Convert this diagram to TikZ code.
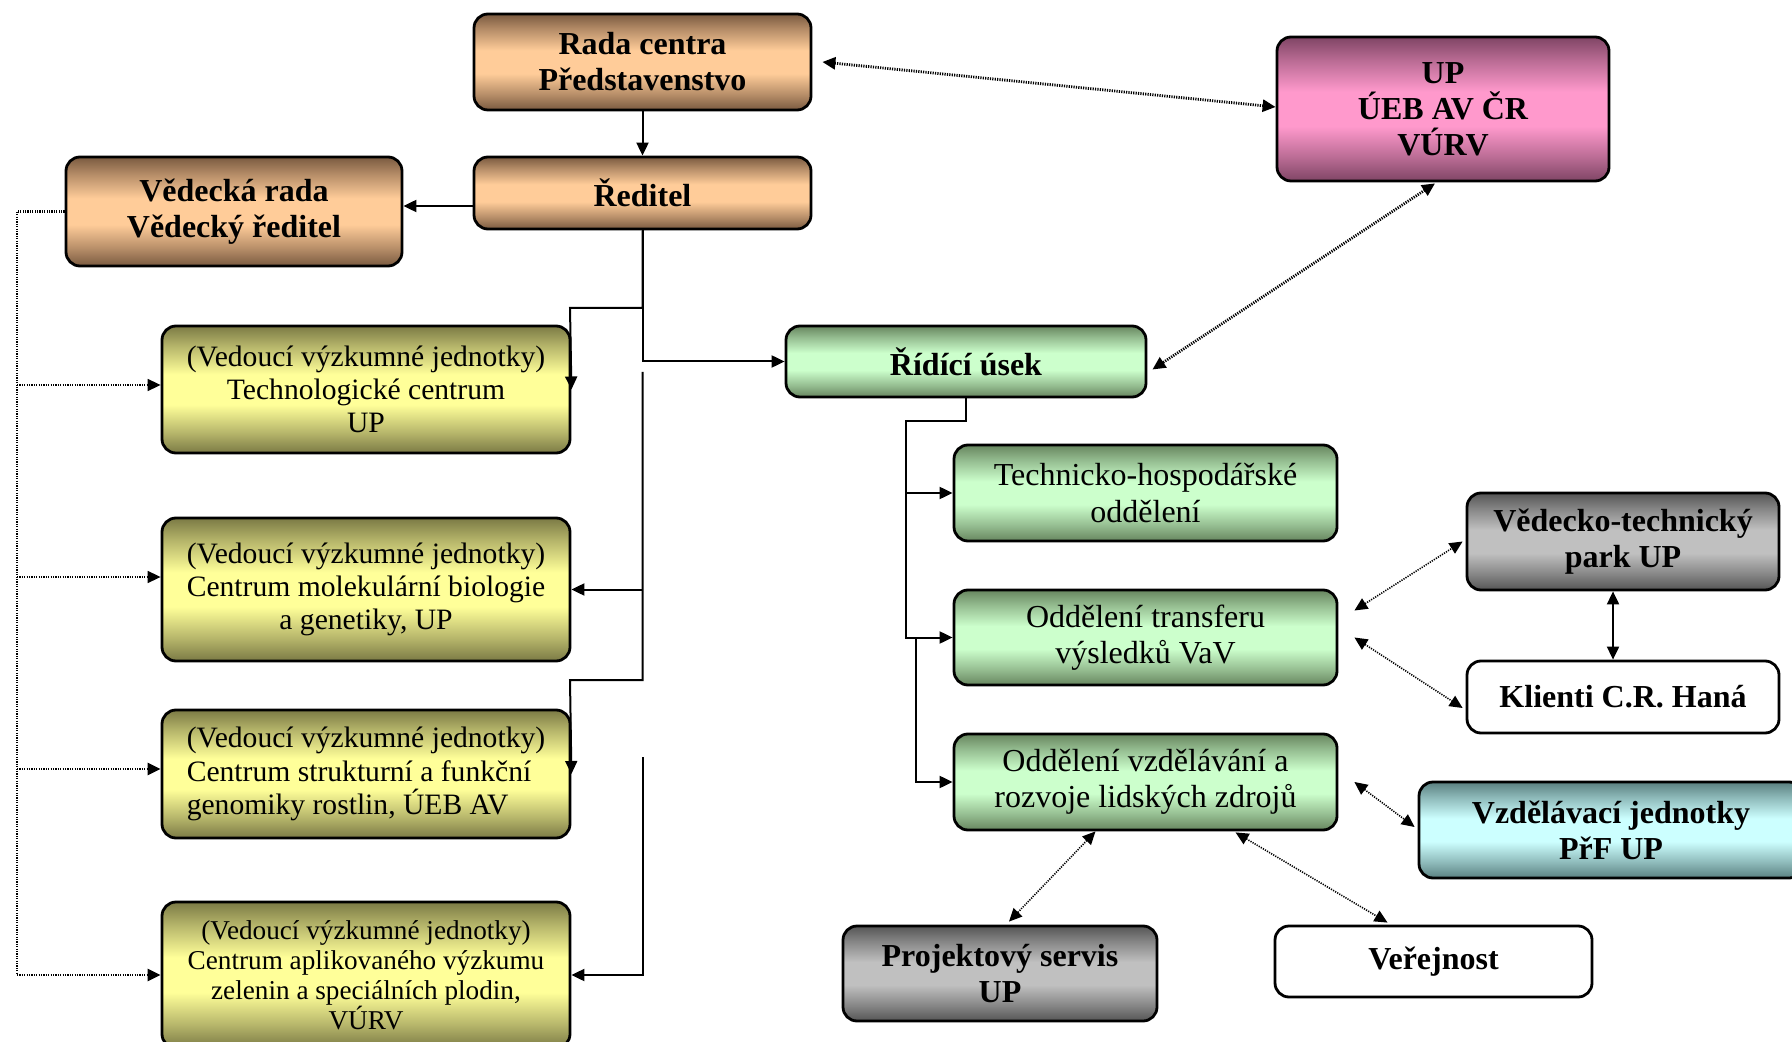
\documentclass[tikz,border=0pt]{standalone}
\usepackage{fontspec}
\setmainfont{Liberation Serif}
\usetikzlibrary{arrows.meta,calc}
\definecolor{tanD}{HTML}{7A5A40}\definecolor{tanL}{HTML}{FFCC99}
\definecolor{oliveD}{HTML}{7B7A45}\definecolor{oliveL}{HTML}{FFFF99}
\definecolor{greenD}{HTML}{67865F}\definecolor{greenL}{HTML}{CCFFCC}
\definecolor{pinkD}{HTML}{7F4565}\definecolor{pinkL}{HTML}{FF99CC}
\definecolor{greyD}{HTML}{555555}\definecolor{greyL}{HTML}{C0C0C0}
\definecolor{cyanD}{HTML}{5A8080}\definecolor{cyanL}{HTML}{CCFFFF}
\colorlet{tanM}{tanD!55!tanL}\colorlet{oliveM}{oliveD!55!oliveL}\colorlet{greenM}{greenD!55!greenL}
\colorlet{pinkM}{pinkD!55!pinkL}\colorlet{greyM}{greyD!55!greyL}\colorlet{cyanM}{cyanD!55!cyanL}
\pgfdeclareverticalshading{tanshade}{100bp}{color(0bp)=(tanD); color(25bp)=(tanD); color(33bp)=(tanM); color(44bp)=(tanL); color(56bp)=(tanL); color(67bp)=(tanM); color(75bp)=(tanD); color(100bp)=(tanD)}
\pgfdeclareverticalshading{oliveshade}{100bp}{color(0bp)=(oliveD); color(25bp)=(oliveD); color(33bp)=(oliveM); color(44bp)=(oliveL); color(56bp)=(oliveL); color(67bp)=(oliveM); color(75bp)=(oliveD); color(100bp)=(oliveD)}
\pgfdeclareverticalshading{greenshade}{100bp}{color(0bp)=(greenD); color(25bp)=(greenD); color(33bp)=(greenM); color(44bp)=(greenL); color(56bp)=(greenL); color(67bp)=(greenM); color(75bp)=(greenD); color(100bp)=(greenD)}
\pgfdeclareverticalshading{pinkshade}{100bp}{color(0bp)=(pinkD); color(25bp)=(pinkD); color(33bp)=(pinkM); color(44bp)=(pinkL); color(56bp)=(pinkL); color(67bp)=(pinkM); color(75bp)=(pinkD); color(100bp)=(pinkD)}
\pgfdeclareverticalshading{greyshade}{100bp}{color(0bp)=(greyD); color(25bp)=(greyD); color(33bp)=(greyM); color(44bp)=(greyL); color(56bp)=(greyL); color(67bp)=(greyM); color(75bp)=(greyD); color(100bp)=(greyD)}
\pgfdeclareverticalshading{cyanshade}{100bp}{color(0bp)=(cyanD); color(25bp)=(cyanD); color(33bp)=(cyanM); color(44bp)=(cyanL); color(56bp)=(cyanL); color(67bp)=(cyanM); color(75bp)=(cyanD); color(100bp)=(cyanD)}
\tikzset{
  box/.style={draw=black, line width=1.4pt, rounded corners=7pt, inner sep=0pt, align=center,
    font=\fontsize{14.8}{16.6}\selectfont},
  greenbox/.style={box, font=\fontsize{16}{18.3}\selectfont},
  boldbox/.style={box, font=\fontsize{16}{18}\selectfont\bfseries},
  tanfill/.style={shading=tanshade},
  olivefill/.style={shading=oliveshade},
  greenfill/.style={shading=greenshade},
  pinkfill/.style={shading=pinkshade},
  greyfill/.style={shading=greyshade},
  cyanfill/.style={shading=cyanshade},
  whitefill/.style={fill=white},
  conn/.style={draw=black, line width=1pt, -{Triangle[length=6.5pt,width=6pt]}},
  dotthick/.style={draw=black, line width=1.4pt, dash pattern=on 0.6pt off 0.6pt, -{Triangle[length=6.5pt,width=6pt]}},
  dotthin/.style={draw=black, line width=0.8pt, dash pattern=on 0.6pt off 0.6pt, -{Triangle[length=6.5pt,width=6pt]}},
  both/.style={{Triangle[length=6.5pt,width=6pt]}-{Triangle[length=6.5pt,width=6pt]}},
}
\begin{document}
\begin{tikzpicture}[x=0.5pt,y=-0.5pt]
\useasboundingbox (0,0) rectangle (1792,1042);
% nodes
\node[boldbox,tanfill,minimum width=168.5pt,minimum height=48pt] (rada) at (642.5,62) {Rada centra\\Představenstvo};
\node[boldbox,tanfill,minimum width=168.5pt,minimum height=36pt] (red) at (642.5,193) {Ředitel};
\node[boldbox,tanfill,minimum width=168pt,minimum height=54.5pt] (ved) at (234,211.5) {Vědecká rada\\Vědecký ředitel};
\node[boldbox,pinkfill,minimum width=166pt,minimum height=72pt] (up) at (1443,109) {UP\\ÚEB AV ČR\\VÚRV};
\node[boldbox,greenfill,minimum width=180pt,minimum height=35.5pt] (rid) at (966,361.5) {Řídící úsek};
\node[box,olivefill,minimum width=204pt,minimum height=63.5pt] (tc) at (366,389.5) {(Vedoucí výzkumné jednotky)\\Technologické centrum\\UP};
\node[box,olivefill,minimum width=204pt,minimum height=71.5pt] (cmb) at (366,589.5) {(Vedoucí výzkumné jednotky)\\Centrum molekulární biologie\\a genetiky, UP};
\node[box,olivefill,align=left,minimum width=204pt,minimum height=64pt] (csf) at (366,774) {(Vedoucí výzkumné jednotky)\\Centrum strukturní a funkční\\genomiky rostlin, ÚEB AV};
\node[box,olivefill,font=\fontsize{13.6}{15}\selectfont,minimum width=204pt,minimum height=73pt] (cav) at (366,975) {(Vedoucí výzkumné jednotky)\\Centrum aplikovaného výzkumu\\zelenin a speciálních plodin,\\VÚRV};
\node[greenbox,greenfill,minimum width=191.5pt,minimum height=48pt] (tho) at (1145.5,493) {Technicko-hospodářské\\oddělení};
\node[greenbox,greenfill,minimum width=191.5pt,minimum height=47.5pt] (otr) at (1145.5,637.5) {Oddělení transferu\\výsledků VaV};
\node[greenbox,greenfill,minimum width=191.5pt,minimum height=48pt] (ovz) at (1145.5,782) {Oddělení vzdělávání a\\rozvoje lidských zdrojů};
\node[boldbox,greyfill,minimum width=156pt,minimum height=48.5pt] (vtp) at (1623,541.5) {Vědecko-technický\\park UP};
\node[boldbox,whitefill,minimum width=156pt,minimum height=36pt] (kli) at (1623,697) {Klienti C.R. Haná};
\node[boldbox,cyanfill,minimum width=192pt,minimum height=48pt] (vzj) at (1611,830) {Vzdělávací jednotky\\PřF UP};
\node[boldbox,greyfill,minimum width=157pt,minimum height=47.5pt] (pro) at (1000,973.5) {Projektový servis\\UP};
\node[boldbox,whitefill,minimum width=158.5pt,minimum height=35.5pt] (ver) at (1433.5,961.5) {Veřejnost};
% solid connectors, left
\draw[conn] (rada) -- (red);
\draw[conn] (red.west |- 0,206) -- (ved.east |- 0,206);
\draw[conn] (red.south) |- (570,308) -- (tc.east);
\draw[conn] (red.south) |- (rid.west);
\coordinate (b1) at (642.5,372);
\draw[conn] (b1) |- (570,680) -- (csf.east);
\draw[conn] (b1 |- cmb.east) -- (cmb.east);
\coordinate (b2) at (642.5,757);
\draw[conn] (b2) |- (cav.east);
% dotted, left
\coordinate (dl) at (17,211.5);
\draw[dotthick] (ved.west) -- (dl) |- (cav.west);
\draw[dotthin] (dl |- 0,385) -- (tc.west |- 0,385);
\draw[dotthin] (dl |- 0,577) -- (cmb.west |- 0,577);
\draw[dotthick] (dl |- 0,769) -- (csf.west |- 0,769);
% solid connectors, right
\draw[conn] (rid.south) |- (906,421) |- (otr.west);
\draw[conn] (906,493) -- (tho.west);
\coordinate (b3) at (916,637.5);
\draw[conn] (b3) |- (ovz.west);
\draw[conn,both] ($(vtp.south)+(-10,0)$) -- ($(kli.north)+(-10,0)$);
% dotted double arrows
\draw[dotthick,both] ($(rada.east)+(10,0)$) -- (up.west |- 0,107);
\draw[dotthick,both] ($(up.south)+(-8,1)$) -- ($(rid.east)+(5,8)$);
\draw[dotthin,both] ($(otr.east)+(16,-27)$) -- ($(vtp.west)+(-3,0)$);
\draw[dotthin,both] ($(otr.east)+(16,0)$) -- ($(kli.west)+(-3,11)$);
\draw[dotthin,both] ($(ovz.east)+(16,0)$) -- ($(vzj.west)+(-3,-3)$);
\draw[dotthin,both] ($(ovz.south)+(-50,0)$) -- ($(pro.north)+(9,-3)$);
\draw[dotthin,both] ($(ovz.south)+(90,1)$) -- ($(ver.north)+(-46,-2)$);
\end{tikzpicture}
\end{document}
